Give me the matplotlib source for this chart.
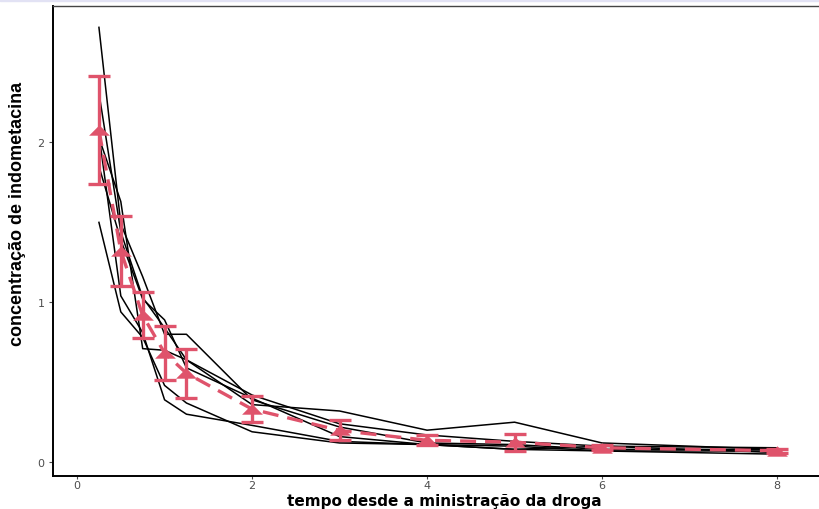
import numpy as np
import matplotlib
matplotlib.use("Agg")
import matplotlib.pyplot as plt
from matplotlib.patches import Rectangle

# indometacina: concentracao por individuo ao longo do tempo
tempo = [0.25, 0.5, 0.75, 1, 1.25, 2, 3, 4, 5, 6, 8]
ind1 = [1.50, 0.94, 0.78, 0.48, 0.37, 0.19, 0.12, 0.11, 0.08, 0.07, 0.05]
ind2 = [2.03, 1.63, 0.71, 0.70, 0.64, 0.36, 0.32, 0.20, 0.25, 0.12, 0.08]
ind3 = [2.72, 1.49, 1.16, 0.80, 0.80, 0.39, 0.22, 0.12, 0.11, 0.08, 0.08]
ind4 = [1.85, 1.39, 1.02, 0.89, 0.59, 0.40, 0.16, 0.11, 0.10, 0.07, 0.07]
ind5 = [2.05, 1.04, 0.81, 0.39, 0.30, 0.23, 0.13, 0.11, 0.08, 0.10, 0.06]
ind6 = [2.31, 1.44, 1.03, 0.84, 0.64, 0.42, 0.24, 0.17, 0.13, 0.10, 0.09]
individuos = [ind1, ind2, ind3, ind4, ind5, ind6]

conc = np.array(individuos)
media = conc.mean(axis=0)
ep = conc.std(axis=0, ddof=1) / np.sqrt(conc.shape[0])

rosa = "#DF536B"
cinza = "#4D4D4D"

# triangulo achatado para a media
tri = [(-1, -0.5), (1, -0.5), (0, 0.5), (-1, -0.5)]

fig = plt.figure(figsize=(8.2, 5.1), dpi=100)
ax = fig.add_axes([53 / 820, 33.5 / 510, 770 / 820, 469.5 / 510])

for c in individuos:
    ax.plot(tempo, c, color="black", lw=1.1, zorder=2)

# media +- 2 erros padrao
ax.errorbar(tempo, media, yerr=2 * ep, fmt="none", ecolor=rosa, elinewidth=2.4,
            capsize=8, capthick=2.4, zorder=3)
ax.plot(tempo, media, color=rosa, lw=2.4, ls=(0, (4.8, 2.7)), zorder=4)
ax.plot(tempo, media, color=rosa, ls="none", marker=tri, markersize=15,
        markeredgewidth=0, zorder=5)

ax.set_xlim(-0.275, 8.525)
ax.set_ylim(-0.0835, 2.8535)
ax.set_xticks([0, 2, 4, 6, 8])
ax.set_yticks([0, 1, 2])
ax.tick_params(colors=cinza, labelsize=8, width=0.8)
ax.tick_params(axis="x", pad=1, length=2.2)
ax.tick_params(axis="y", pad=3, length=3)

for s in ["left", "bottom"]:
    ax.spines[s].set_color("black")
    ax.spines[s].set_linewidth(1.4)
ax.spines["top"].set_color("#444444")
ax.spines["top"].set_linewidth(1.0)
ax.spines["right"].set_visible(False)

ax.set_xlabel("tempo desde a ministração da droga", fontsize=11, fontweight="bold",
              family="DejaVu Sans")
ax.xaxis.set_label_coords((444 - 53) / 770, (476.5 - 506.3) / 469.5)
ax.xaxis.label.set_va("baseline")
ax.set_ylabel("concentração de indometacina", fontsize=13, fontweight="bold",
              family="Liberation Sans")
ax.yaxis.set_label_coords((18 - 53) / 770, (476.5 - 214) / 469.5)
ax.yaxis.label.set_va("center")

fig.patches.append(Rectangle((0, 1 - 2 / 510), 1, 2 / 510, transform=fig.transFigure,
                             color="#E2E2F4", zorder=0))

fig.savefig("out.png", dpi=100)
